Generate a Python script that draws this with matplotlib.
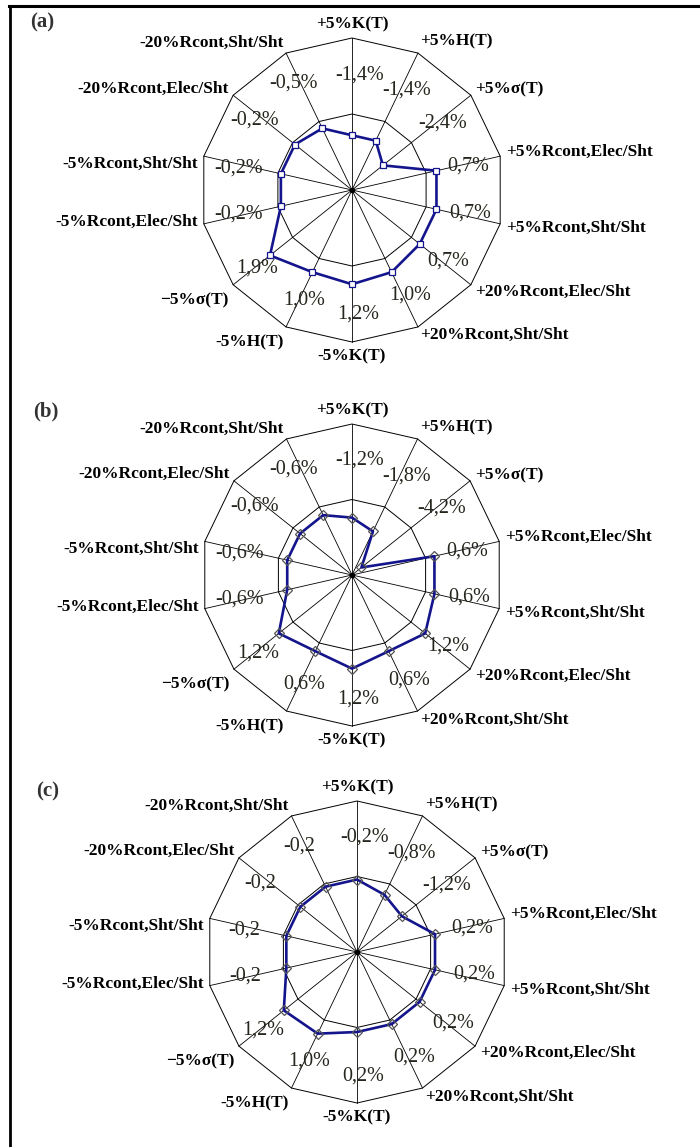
import numpy as np
import matplotlib.pyplot as plt
from matplotlib.lines import Line2D
from matplotlib.patches import Polygon

plt.rcParams['font.family'] = ['Liberation Serif', 'DejaVu Serif']

# spokes, clockwise from the top
categories = ["+5%K(T)", "+5%H(T)", "+5%σ(T)", "+5%Rcont,Elec/Sht", "+5%Rcont,Sht/Sht",
              "+20%Rcont,Elec/Sht", "+20%Rcont,Sht/Sht", "-5%K(T)", "-5%H(T)", "−5%σ(T)",
              "-5%Rcont,Elec/Sht", "-5%Rcont,Sht/Sht", "-20%Rcont,Elec/Sht", "-20%Rcont,Sht/Sht"]

# (a)
values_a = [-1.4, -1.4, -2.4, 0.7, 0.7, 0.7, 1.0, 1.2, 1.0, 1.9, -0.2, -0.2, -0.2, -0.5]
labels_a = ["-1,4%", "-1,4%", "-2,4%", "0,7%", "0,7%", "0,7%", "1,0%",
            "1,2%", "1,0%", "1,9%", "-0,2%", "-0,2%", "-0,2%", "-0,5%"]
# (b)
values_b = [-1.2, -1.8, -4.2, 0.6, 0.6, 1.2, 0.6, 1.2, 0.6, 1.2, -0.6, -0.6, -0.6, -0.6]
labels_b = ["-1,2%", "-1,8%", "-4,2%", "0,6%", "0,6%", "1,2%", "0,6%",
            "1,2%", "0,6%", "1,2%", "-0,6%", "-0,6%", "-0,6%", "-0,6%"]
# (c)
values_c = [-0.2, -0.8, -1.2, 0.3, 0.3, 0.3, 0.3, 0.3, 1.0, 1.2, -0.2, -0.2, -0.2, -0.2]
labels_c = ["-0,2%", "-0,8%", "-1,2%", "0,2%", "0,2%", "0,2%", "0,2%",
            "0,2%", "1,0%", "1,2%", "-0,2", "-0,2", "-0,2", "-0,2"]

v_min, v_max = -5, 5
rings = [0, 5]

# label layout tweaks (category label vertical nudge in px,
# data label radius and angular nudge in degrees)
cat_dy = [0, -6, -2, -3, 3, 3, 3, 0, 10, 12, -3, 9, -3, -5]
lab_r = [0.76, 0.75, 0.74, 0.78, 0.79, 0.79, 0.79, 0.82, 0.79, 0.81, 0.76, 0.76, 0.79, 0.80]
lab_da = [4, 3, 2, 1, -2, -2, -3, -3, -2, -1, 1, -2, -3, -3]

W, H = 700, 1147
fig = plt.figure(figsize=(W/100, H/100), dpi=100)
fig.patch.set_facecolor('white')

# frame lines (top and left)
fig.add_artist(Line2D([9/W, 1], [1-6/H, 1-6/H], color='black', lw=2.2))
fig.add_artist(Line2D([10/W, 10/W], [0, 1-6/H], color='black', lw=2.0))

line_col = '#14148c'


def radar(cx, cy, R, values, labels, tag, tagpos, marker, ms, mec, mfc):
    m = 1.05
    ax = fig.add_axes([(cx - m*R)/W, 1 - (cy + m*R)/H, 2*m*R/W, 2*m*R/H])
    ax.set_xlim(-m, m)
    ax.set_ylim(-m, m)
    ax.axis('off')
    n = len(categories)
    th = np.arange(n) * 2*np.pi/n
    sx, sy = np.sin(th), np.cos(th)

    # grid polygons and spokes
    for rv in rings:
        rr = (rv - v_min)/(v_max - v_min)
        ax.add_patch(Polygon(np.column_stack([rr*sx, rr*sy]), closed=True,
                             fill=False, ec='black', lw=0.7, zorder=1))
    for x, y in zip(sx, sy):
        ax.plot([0, x], [0, y], color='black', lw=0.6, zorder=1)
    ax.plot([0], [0], 'o', color='black', ms=3, zorder=2)

    # data polygon
    r = (np.array(values) - v_min)/(v_max - v_min)
    ax.add_patch(Polygon(np.column_stack([r*sx, r*sy]), closed=True, fill=False,
                         ec=line_col, lw=1.9, joinstyle='round', zorder=3))
    ax.plot(r*sx, r*sy, ls='none', marker=marker, ms=ms, mec=mec, mfc=mfc,
            mew=0.9, zorder=4)

    # data labels
    for i, lab in enumerate(labels):
        a = th[i] + np.radians(lab_da[i])
        ax.text(lab_r[i]*np.sin(a), lab_r[i]*np.cos(a), lab, fontsize=14.5,
                color='#26261e', ha='center', va='center', zorder=5)

    # category labels
    for i, cat in enumerate(categories):
        off = 6/R
        x, y = (1 + off)*sx[i], (1 + off)*sy[i] - cat_dy[i]/R
        if sx[i] > 0.1:
            ha = 'left'
        elif sx[i] < -0.1:
            ha = 'right'
        else:
            ha = 'center'
        if sy[i] > 0.95:
            va = 'bottom'
        elif sy[i] < -0.95:
            va = 'top'
        else:
            va = 'center'
        ax.text(x, y, cat, fontsize=12.5, fontweight='bold', ha=ha, va=va,
                color='black')

    fig.text(tagpos[0]/W, 1 - tagpos[1]/H, tag, fontsize=15, fontweight='bold',
             ha='center', va='center', color='#333333')


radar(352, 190, 152, values_a, labels_a, '(a)', (42, 22), 's', 5, line_col, 'white')
radar(352, 575, 151, values_b, labels_b, '(b)', (46, 411), 'D', 5.5, '#555555', 'none')
radar(357, 952, 151, values_c, labels_c, '(c)', (48, 791), 'D', 5.5, '#555555', 'none')

fig.savefig('out.png', dpi=100, facecolor='white')
